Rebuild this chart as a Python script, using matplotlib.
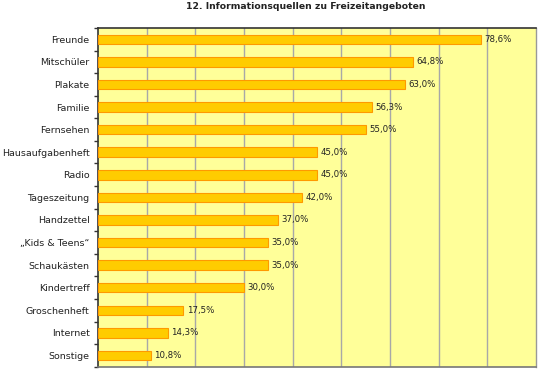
import numpy as np
import matplotlib.pyplot as plt

# Daten
kategorien = ['Freunde', 'Mitschüler', 'Plakate', 'Familie', 'Fernsehen',
              'Hausaufgabenheft', 'Radio', 'Tageszeitung', 'Handzettel',
              '\u201eKids & Teens\u201c', 'Schaukästen', 'Kindertreff',
              'Groschenheft', 'Internet', 'Sonstige']
werte = [78.6, 64.8, 63.0, 56.3, 55.0, 45.0, 45.0, 42.0, 37.0,
         35.0, 35.0, 30.0, 17.5, 14.3, 10.8]
titel = '12. Informationsquellen zu Freizeitangeboten'

fig = plt.figure(figsize=(5.4, 3.72), dpi=100)
ax = fig.add_axes([0.1815, 0.0142, 0.8111, 0.9105])
ax.set_facecolor('#FFFF99')

y = np.arange(len(kategorien))
ax.barh(y, werte, height=0.42, color='#FFCC00', edgecolor='#FF9900',
        linewidth=0.8, zorder=3)

# Werte an den Balken
for yi, w in zip(y, werte):
    ax.text(w + 0.7, yi, ('%.1f%%' % w).replace('.', ','), va='center',
            ha='left', fontsize=6.2, color='#222222', zorder=4)

ax.set_xlim(0, 90)
ax.set_ylim(len(kategorien) - 0.5, -0.5)
ax.set_xticks(np.arange(10, 90, 10))
ax.set_xticklabels([])
ax.tick_params(axis='x', length=0)
ax.grid(axis='x', color='#A8A8A8', linewidth=1, zorder=1)

ax.set_yticks(y)
ax.set_yticklabels(kategorien, fontsize=6.8, color='#222222')
ax.tick_params(axis='y', length=0, pad=6)
# Trennstriche zwischen Kategorien
ax.set_yticks(np.arange(-0.5, len(kategorien), 1), minor=True)
ax.tick_params(axis='y', which='minor', length=3, width=1, color='#333333')

ax.spines['left'].set_color('#333333')
ax.spines['left'].set_linewidth(1.2)
ax.spines['top'].set_color('#333333')
ax.spines['top'].set_linewidth(1.2)
ax.spines['bottom'].set_color('#777777')
ax.spines['bottom'].set_linewidth(1.2)
ax.spines['right'].set_color('#999999')
ax.spines['right'].set_linewidth(1)

fig.text(0.567, 0.983, titel, ha='center', va='center', fontsize=6.7,
         fontweight='bold', color='#222222')

plt.savefig('out.png', dpi=100)
